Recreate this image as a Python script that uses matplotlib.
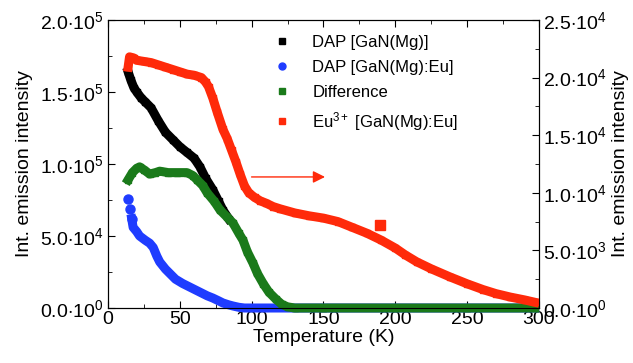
import matplotlib
matplotlib.use("Agg")
import matplotlib.pyplot as plt
from matplotlib.lines import Line2D
from matplotlib.ticker import FuncFormatter, MultipleLocator

plt.rcParams['font.family'] = ['Liberation Sans', 'DejaVu Sans']
plt.rcParams['mathtext.fontset'] = 'custom'
plt.rcParams['mathtext.rm'] = 'Liberation Sans'
plt.rcParams['mathtext.it'] = 'Liberation Sans:italic'

# DAP [GaN(Mg)] (left axis)
dap_mg_T = [14, 16, 18, 20, 23, 26, 30, 35, 40, 45, 50, 55, 60, 64, 68, 73, 77, 80, 84]
dap_mg = [1.64e5, 1.58e5, 1.53e5, 1.50e5, 1.46e5, 1.43e5, 1.39e5, 1.30e5, 1.22e5, 1.17e5,
          1.12e5, 1.08e5, 1.04e5, 0.98e5, 0.90e5, 0.82e5, 0.74e5, 0.68e5, 0.62e5]

# DAP [GaN(Mg):Eu] (left axis)
dap_eu_T = [14, 15, 16.5, 17.5, 20, 22, 26, 29, 31.5, 34, 36, 40, 43, 47, 52, 58, 64, 69, 73,
            77, 80, 84, 87, 91, 95, 110, 130, 160, 200, 250, 297]
dap_eu = [7.6e4, 6.9e4, 6.2e4, 5.6e4, 5.3e4, 5.0e4, 4.7e4, 4.5e4, 4.2e4, 3.6e4, 3.2e4, 2.7e4,
          2.4e4, 2.0e4, 1.7e4, 1.4e4, 1.1e4, 8.5e3, 6.9e3, 5.0e3, 3.5e3, 2.2e3, 1.4e3, 500,
          0, 0, 0, 0, 0, 0, 0]

# Difference (left axis)
diff_T = [14, 17, 20, 22, 25, 29, 33, 36, 42, 48, 55, 59, 62, 66, 69, 74, 78, 83, 87, 91, 94,
          97, 101, 104, 108, 112, 117, 121, 125, 130, 150, 200, 250, 297]
diff = [8.9e4, 9.4e4, 9.7e4, 9.8e4, 9.6e4, 9.3e4, 9.4e4, 9.5e4, 9.4e4, 9.4e4, 9.4e4, 9.2e4,
        8.9e4, 8.5e4, 8.0e4, 7.4e4, 6.8e4, 6.3e4, 5.9e4, 5.2e4, 4.7e4, 3.9e4, 3.1e4, 2.4e4,
        1.7e4, 1.1e4, 6.0e3, 2.5e3, 800, 0, 0, 0, 0, 0]

# Eu3+ [GaN(Mg):Eu] (right axis)
eu_T = [14, 15, 18, 20, 25, 30, 35, 40, 45, 50, 55, 60, 65, 68, 70, 73, 76, 80, 83, 86, 89,
        92, 95, 98, 102, 106, 110, 115, 120, 130, 140, 150, 160, 170, 180, 190, 200, 207,
        215, 225, 238, 250, 261, 270, 280, 290, 297]
eu = [2.09e4, 2.18e4, 2.17e4, 2.15e4, 2.14e4, 2.13e4, 2.11e4, 2.09e4, 2.07e4, 2.05e4, 2.03e4,
      2.02e4, 2.00e4, 1.96e4, 1.92e4, 1.82e4, 1.70e4, 1.55e4, 1.47e4, 1.37e4, 1.27e4, 1.16e4,
      1.06e4, 1.00e4, 9.6e3, 9.3e3, 9.1e3, 8.8e3, 8.6e3, 8.25e3, 8.0e3, 7.8e3, 7.5e3, 7.0e3,
      6.5e3, 5.9e3, 5.2e3, 4.6e3, 4.0e3, 3.4e3, 2.7e3, 2.1e3, 1.6e3, 1.25e3, 0.95e3, 0.7e3,
      0.5e3]
eu_spike_T = [189]
eu_spike = [7.2e3]

labels = ['DAP [GaN(Mg)]', 'DAP [GaN(Mg):Eu]', 'Difference', r'Eu$^{3+}$ [GaN(Mg):Eu]']
colors = ['black', '#1f3cff', '#1a7a1a', '#ff2a0a']


def sci(v, pos):
    if v == 0:
        return r'$0.0{\cdot}10^{0}$'
    e = 0
    while abs(v) >= 10:
        v /= 10
        e += 1
    return r'$%.1f{\cdot}10^{%d}$' % (v, e)


fig = plt.figure(figsize=(6.33, 3.63), dpi=100)
ax = fig.add_axes([0.1706, 0.1515, 0.6809, 0.7935])
ax2 = ax.twinx()

lw = 6.5
ms = 4.5
ax.plot(dap_mg_T, dap_mg, color=colors[0], lw=lw, marker='s', ms=ms, clip_on=False, zorder=2)
# first blue points are separate dots
ax.plot(dap_eu_T[2:], dap_eu[2:], color=colors[1], lw=lw, clip_on=False, zorder=3)
ax.plot(dap_eu_T[:3], dap_eu[:3], color=colors[1], ls='none', marker='o', ms=6.5,
        clip_on=False, zorder=3)
ax.plot(diff_T, diff, color=colors[2], lw=lw, marker='s', ms=ms, clip_on=False, zorder=4)
ax2.plot(eu_T, eu, color=colors[3], lw=lw, marker='s', ms=ms, clip_on=False)
ax2.plot(eu_spike_T, eu_spike, color=colors[3], ls='none', marker='s', ms=6.5, clip_on=False)

ax.set_xlim(0, 300)
ax.set_ylim(0, 2.0e5)
ax2.set_ylim(0, 2.5e4)

ax.xaxis.set_major_locator(MultipleLocator(50))
ax.xaxis.set_minor_locator(MultipleLocator(25))
ax.yaxis.set_major_locator(MultipleLocator(5e4))
ax.yaxis.set_minor_locator(MultipleLocator(2.5e4))
ax2.yaxis.set_major_locator(MultipleLocator(5e3))
ax2.yaxis.set_minor_locator(MultipleLocator(2.5e3))
ax.yaxis.set_major_formatter(FuncFormatter(sci))
ax2.yaxis.set_major_formatter(FuncFormatter(sci))

fs = 14
ax.tick_params(axis='x', which='both', direction='in', top=True, labelsize=fs, pad=2)
ax.tick_params(axis='y', which='both', direction='in', labelsize=fs, pad=3)
ax2.tick_params(axis='y', which='both', direction='in', labelsize=fs, pad=3)
ax.tick_params(which='major', length=5)
ax.tick_params(which='minor', length=3)
ax2.tick_params(which='major', length=5)
ax2.tick_params(which='minor', length=3)

ax.set_xlabel('Temperature (K)', fontsize=fs, labelpad=1)
ax.set_ylabel('Int. emission intensity', fontsize=fs, labelpad=5)
ax2.set_ylabel('Int. emission intensity', fontsize=fs, labelpad=4, rotation=90)

ax.annotate('', xy=(153, 9.1e4), xytext=(98, 9.1e4),
            arrowprops=dict(arrowstyle='-|>', color=colors[3], lw=1, mutation_scale=18))

handles = [Line2D([], [], ls='none', marker=m, color=c, ms=5)
           for m, c in zip(['s', 'o', 's', 's'], colors)]
ax.legend(handles, labels, loc='upper left', bbox_to_anchor=(0.35, 1.0), frameon=False,
          fontsize=12, handlelength=1.0, handletextpad=1.3, labelspacing=0.6)

fig.savefig('out.png', dpi=100)
